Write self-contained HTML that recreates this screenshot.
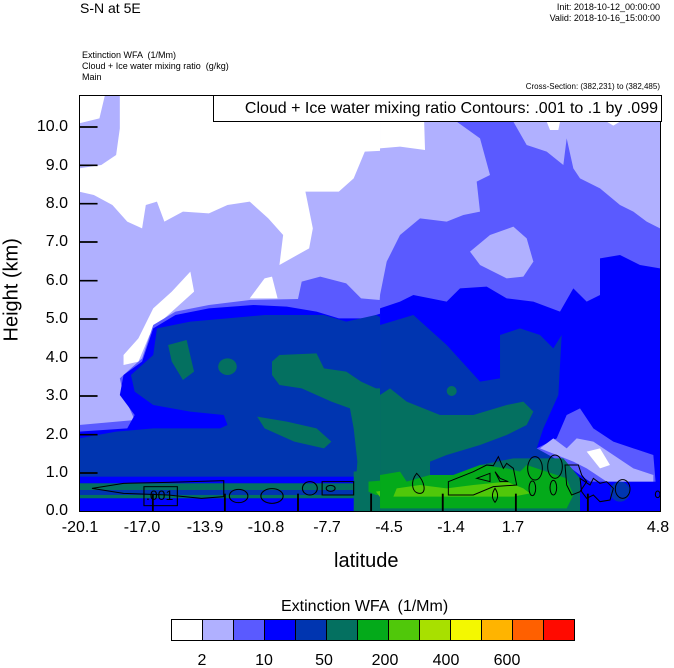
<!DOCTYPE html>
<html><head><style>
body{margin:0;background:#fff;}
#c{position:relative;width:674px;height:668px;overflow:hidden;font-family:"Liberation Sans",sans-serif;color:#000;}
.t{position:absolute;white-space:nowrap;}
.yl{position:absolute;right:606px;font-size:16px;}
.xl{position:absolute;top:519px;font-size:16px;transform:translateX(-50%);}
.cl{position:absolute;top:652px;font-size:16px;transform:translateX(-50%);}
</style></head><body><div id="c">
<div class="t" style="left:80px;top:0px;font-size:14px;">S-N at 5E</div>
<div class="t" style="right:14px;top:2px;font-size:9px;text-align:right;line-height:11px;">Init: 2018-10-12_00:00:00<br>Valid: 2018-10-16_15:00:00</div>
<div class="t" style="left:82px;top:50px;font-size:9px;line-height:11px;">Extinction WFA &nbsp;(1/Mm)<br>Cloud + Ice water mixing ratio &nbsp;(g/kg)<br>Main</div>
<div class="t" style="right:14px;top:82px;font-size:8px;">Cross-Section: (382,231) to (382,485)</div>

<svg style="position:absolute;left:79px;top:95px;" width="582" height="417" viewBox="0 0 1568 1251" preserveAspectRatio="none">
<rect width="1568" height="1251" fill="#b0b0ff"/>
<polygon fill="#fff" points="110,0 920,0 930,160 770,170 740,250 700,290 610,290 630,400 620,460 540,510 550,420 510,370 460,320 400,330 350,355 280,350 230,380 210,320 180,330 170,400 130,380 90,330 40,300 0,290 0,220 60,210 100,180 110,100"/>
<polygon fill="#fff" points="0,0 70,0 55,70 0,85"/>
<polygon fill="#fff" points="120,780 160,730 200,640 250,590 300,530 310,590 260,640 230,670 190,720 160,800 120,810"/>
<polygon fill="#fff" points="460,610 500,550 520,545 535,610"/>
<polygon fill="#5a5aff" points="0,990 150,975 120,900 110,850 170,790 200,690 260,650 350,630 460,615 590,612 600,560 650,545 720,565 760,610 810,615 820,480 860,390 900,360 960,380 1000,370 1040,430 1060,370 1080,300 1070,240 1100,240 1100,180 1070,130 1030,80 1170,80 1230,150 1280,190 1310,130 1340,260 1400,280 1440,340 1500,350 1568,310 1568,1251 0,1251"/>
<polygon fill="#0000ff" points="0,1010 130,1000 150,960 110,900 120,840 170,800 200,700 260,660 350,640 470,630 560,635 640,650 700,670 770,670 860,640 880,600 960,600 990,610 1010,580 1080,570 1160,600 1220,620 1280,660 1320,620 1360,560 1400,490 1460,480 1568,500 1568,1251 0,1251"/>
<polygon fill="#0035b0" points="0,1030 100,1010 200,1000 380,1000 400,990 390,960 300,950 200,930 150,890 140,840 200,780 210,700 300,680 400,670 500,660 600,660 660,660 720,680 800,660 870,700 900,670 940,700 960,720 1000,760 1040,780 1080,820 1100,850 1120,810 1140,720 1180,700 1230,720 1300,740 1320,780 1300,860 1300,960 1280,1000 1230,1050 1200,1080 1310,1100 1330,1251 0,1251"/>
<g fill="#047060">
<polygon points="240,750 290,735 310,830 280,855 250,800"/>
<circle cx="400" cy="815" r="25"/>
<polygon points="520,800 540,780 640,775 660,820 720,830 760,860 800,880 850,880 880,900 910,920 960,950 1060,960 1120,940 1180,920 1220,930 1210,980 1150,1020 1070,1040 1000,1060 960,1110 940,1130 860,1120 840,1140 800,1150 790,1200 760,1251 740,1251 750,1100 740,1000 730,940 680,920 600,880 540,870 520,840"/>
<polygon points="480,965 560,980 640,1000 680,1040 660,1060 580,1040 500,1000"/>
<polygon points="740,1130 830,1120 830,1251 740,1251"/>
</g>
<rect x="0" y="1145" width="740" height="20" fill="#0000ff"/>
<rect x="0" y="1165" width="740" height="20" fill="#047060"/>
<rect x="0" y="1185" width="740" height="15" fill="#0035b0"/>
<rect x="0" y="1200" width="740" height="10" fill="#047060"/>
<rect x="0" y="1210" width="740" height="41" fill="#0000ff"/>
<polygon fill="#04aa1a" points="780,1160 830,1155 830,1200 800,1200 780,1190"/>
<polygon fill="#50c80a" points="800,1190 830,1185 830,1205 810,1205"/>

<g transform="translate(811,0) scale(0.898,1)">
<rect x="0" y="0" width="840" height="1251" fill="#b0b0ff"/>
<polygon fill="#fff" points="0,0 130,0 135,165 60,155 0,160"/>
<polygon fill="#fff" points="500,80 540,80 535,105 510,105"/>
<polygon fill="#fff" points="680,80 720,80 700,92"/>
<polygon fill="#5a5aff" points="230,80 400,80 440,150 500,170 550,210 560,130 580,220 600,250 660,280 720,330 760,350 800,380 840,400 840,1251 0,1251 0,600 20,500 60,420 120,370 200,380 250,360 300,350 290,260 330,240 300,130"/>
<polygon fill="#b0b0ff" points="270,470 330,420 400,395 440,430 460,500 430,545 380,550 300,510"/>
<polygon fill="#0000ff" points="0,640 60,620 100,600 200,620 240,580 320,575 380,610 460,620 540,650 580,580 620,620 660,600 660,490 720,480 780,510 840,520 840,1251 0,1251"/>
<polygon fill="#0035b0" points="0,690 100,660 200,750 300,860 360,850 360,720 420,700 480,720 520,760 545,720 535,900 490,1000 470,1060 560,1090 600,1160 600,1251 0,1251"/>
<polygon fill="#5a5aff" points="470,1060 530,1030 560,960 600,940 640,1000 700,1040 760,1060 820,1080 830,1200 740,1200 660,1180 600,1140 560,1110"/>
<polygon fill="#b0b0ff" points="480,1060 520,1030 560,1060 590,1030 640,1040 700,1080 760,1120 820,1140 820,1190 740,1190 680,1160 620,1120 580,1100"/>
<polygon fill="#fff" points="620,1070 660,1060 690,1110 660,1120"/>
<polygon fill="#047060" points="0,900 30,880 80,920 180,960 280,960 380,930 430,920 460,950 440,990 380,1020 300,1050 200,1080 150,1100 150,1140 220,1140 300,1110 400,1090 550,1090 600,1150 600,1251 0,1251"/>
<circle cx="215" cy="888" r="15" fill="#047060"/>
<polygon fill="#04aa1a" points="0,1140 60,1130 80,1160 150,1140 220,1140 300,1110 380,1120 420,1130 440,1110 560,1150 580,1200 560,1240 0,1240"/>
<polygon fill="#50c80a" points="50,1180 120,1170 200,1180 280,1170 380,1160 430,1180 450,1195 400,1205 300,1205 180,1205 40,1205"/>
<rect x="600" y="1160" width="240" height="91" fill="#0000ff"/>
<ellipse cx="720" cy="1190" rx="30" ry="30" fill="#0035b0"/>
<g fill="none" stroke="#000" stroke-width="3">
<path d="M110,1135 C90,1160 95,1195 120,1195 C140,1195 135,1160 110,1135 Z"/>
<path d="M205,1160 L280,1130 L320,1110 L340,1112 L355,1085 L370,1120 L380,1105 L400,1120 L410,1170 L340,1175 L280,1200 L205,1200 Z"/>
<path d="M290,1150 L330,1135 L330,1160 Z M345,1130 L360,1160 L385,1160 L360,1150 Z"/>
<path d="M345,1180 C335,1195 335,1210 345,1222 C355,1210 355,1195 345,1180 Z"/>
<ellipse cx="465" cy="1120" rx="22" ry="35"/>
<ellipse cx="525" cy="1115" rx="22" ry="35"/>
<ellipse cx="457" cy="1180" rx="10" ry="22"/>
<ellipse cx="520" cy="1178" rx="10" ry="22"/>
<path d="M555,1110 L595,1110 L605,1140 L620,1160 L600,1190 L575,1200 L560,1170 Z"/>
<path d="M600,1150 L630,1170 L640,1150 L660,1165 L680,1160 L700,1180 L690,1215 L660,1220 L640,1200 L620,1210 L605,1190 Z"/>
<ellipse cx="728" cy="1182" rx="22" ry="28"/>
<ellipse cx="833" cy="1198" rx="7" ry="10"/>
</g>
</g>

<g fill="none" stroke="#000" stroke-width="3">
<path d="M35,1180 L120,1165 L240,1162 L390,1157 L390,1205 L330,1210 L240,1200 L120,1195 Z"/>
<ellipse cx="430" cy="1203" rx="25" ry="20"/>
<ellipse cx="520" cy="1203" rx="30" ry="22"/>
<ellipse cx="622" cy="1180" rx="20" ry="20"/>
<path d="M655,1160 L740,1160 L740,1200 L655,1200 Z"/>
<ellipse cx="678" cy="1180" rx="12" ry="9"/>
</g>
<rect x="175" y="1175" width="90" height="57" fill="none" stroke="#000" stroke-width="3"/>
<g stroke="#000" stroke-width="5">
<line x1="0" y1="96" x2="50" y2="96"/><line x1="0" y1="211" x2="50" y2="211"/><line x1="0" y1="326" x2="50" y2="326"/><line x1="0" y1="441" x2="50" y2="441"/><line x1="0" y1="557" x2="50" y2="557"/><line x1="0" y1="672" x2="50" y2="672"/><line x1="0" y1="788" x2="50" y2="788"/><line x1="0" y1="903" x2="50" y2="903"/><line x1="0" y1="1019" x2="50" y2="1019"/><line x1="0" y1="1134" x2="50" y2="1134"/>
<line x1="199" y1="1251" x2="199" y2="1196"/><line x1="393" y1="1251" x2="393" y2="1196"/><line x1="590" y1="1251" x2="590" y2="1196"/><line x1="787" y1="1251" x2="787" y2="1196"/><line x1="980" y1="1251" x2="980" y2="1196"/><line x1="1177" y1="1251" x2="1177" y2="1196"/><line x1="1371" y1="1251" x2="1371" y2="1196"/>
</g>
</svg>
<div class="t" style="left:146px;top:487px;font-size:14px;">.001</div>
<div style="position:absolute;left:79px;top:95px;width:580px;height:415px;border:1px solid #000;"></div>
<div class="t" style="left:213px;top:95px;width:444px;height:25px;background:#fff;border:1px solid #000;font-size:16px;line-height:25px;text-align:right;padding-right:3px;">Cloud + Ice water mixing ratio Contours: .001 to .1 by .099</div>

<div class="yl" style="top:118px;">10.0</div><div class="yl" style="top:157px;">9.0</div><div class="yl" style="top:195px;">8.0</div><div class="yl" style="top:233px;">7.0</div><div class="yl" style="top:272px;">6.0</div><div class="yl" style="top:310px;">5.0</div><div class="yl" style="top:349px;">4.0</div><div class="yl" style="top:387px;">3.0</div><div class="yl" style="top:426px;">2.0</div><div class="yl" style="top:464px;">1.0</div><div class="yl" style="top:502px;">0.0</div>
<div class="t" style="left:-28px;top:290px;font-size:20px;transform:rotate(-90deg);width:80px;text-align:center;">Height (km)</div>
<div class="xl" style="left:80px;">-20.1</div><div class="xl" style="left:142px;">-17.0</div><div class="xl" style="left:205px;">-13.9</div><div class="xl" style="left:266px;">-10.8</div><div class="xl" style="left:327px;">-7.7</div><div class="xl" style="left:389px;">-4.5</div><div class="xl" style="left:451px;">-1.4</div><div class="xl" style="left:513px;">1.7</div><div class="xl" style="left:658px;">4.8</div>
<div class="t" style="left:334px;top:550px;font-size:20px;">latitude</div>
<div class="t" style="left:281px;top:598px;font-size:16px;">Extinction WFA &nbsp;(1/Mm)</div>
<div style="position:absolute;left:171px;top:619px;display:flex;border:1px solid #000;">
<div style="width:30px;height:20px;background:#fff;border-right:1px solid #000"></div><div style="width:30px;height:20px;background:#b0b0ff;border-right:1px solid #000"></div><div style="width:30px;height:20px;background:#5a5aff;border-right:1px solid #000"></div><div style="width:30px;height:20px;background:#0000ff;border-right:1px solid #000"></div><div style="width:30px;height:20px;background:#0035b0;border-right:1px solid #000"></div><div style="width:30px;height:20px;background:#047060;border-right:1px solid #000"></div><div style="width:30px;height:20px;background:#04aa1a;border-right:1px solid #000"></div><div style="width:30px;height:20px;background:#50c80a;border-right:1px solid #000"></div><div style="width:30px;height:20px;background:#a8e000;border-right:1px solid #000"></div><div style="width:30px;height:20px;background:#f4f800;border-right:1px solid #000"></div><div style="width:30px;height:20px;background:#ffb400;border-right:1px solid #000"></div><div style="width:30px;height:20px;background:#ff6000;border-right:1px solid #000"></div><div style="width:30px;height:20px;background:#ff0a00"></div>
</div>
<div class="cl" style="left:202px;">2</div><div class="cl" style="left:264px;">10</div><div class="cl" style="left:324px;">50</div><div class="cl" style="left:385px;">200</div><div class="cl" style="left:446px;">400</div><div class="cl" style="left:507px;">600</div>
</div></body></html>
